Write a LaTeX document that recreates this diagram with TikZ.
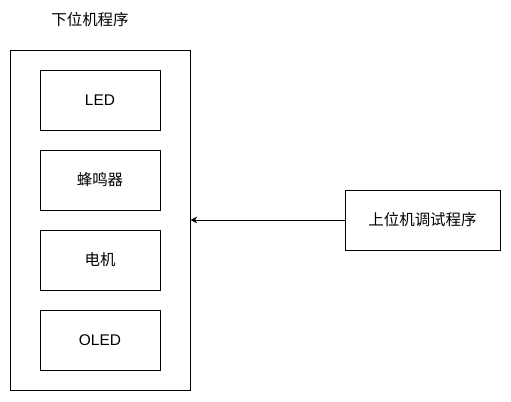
\documentclass[tikz,border=0pt]{standalone}
\usepackage{fontspec}
\setmainfont{Liberation Sans}
\newfontfamily\cjk{Noto Sans CJK SC}
\usetikzlibrary{arrows.meta}
\tikzset{every path/.style={black, line width=0.75pt}, every node/.style={font=\fontsize{11.6}{14}\selectfont, inner sep=0pt},
  part/.style={draw, minimum width=90pt, minimum height=45pt}}

\begin{document}
\begin{tikzpicture}[x=0.75pt, y=-0.75pt]
   \useasboundingbox (0,0) rectangle (511,401);
   \node (title) at (90,20) {\cjk 下位机程序};
   \node[draw, minimum width=135pt, minimum height=255pt] (board) at (100,220) {};
   \node[part] (led) at (100,100) {LED};
   \node[part] (buzzer) at (100,180) {\cjk 蜂鸣器};
   \node[part] (motor) at (100,260) {\cjk 电机};
   \node[part] (oled) at (100,340) {OLED};
   \node[draw, minimum width=116.25pt, minimum height=45pt] (host) at (422.5,220) {\cjk 上位机调试程序};
   \draw[-{Stealth[length=5pt, width=5pt]}] (host) -- (board);
\end{tikzpicture}
\end{document}
